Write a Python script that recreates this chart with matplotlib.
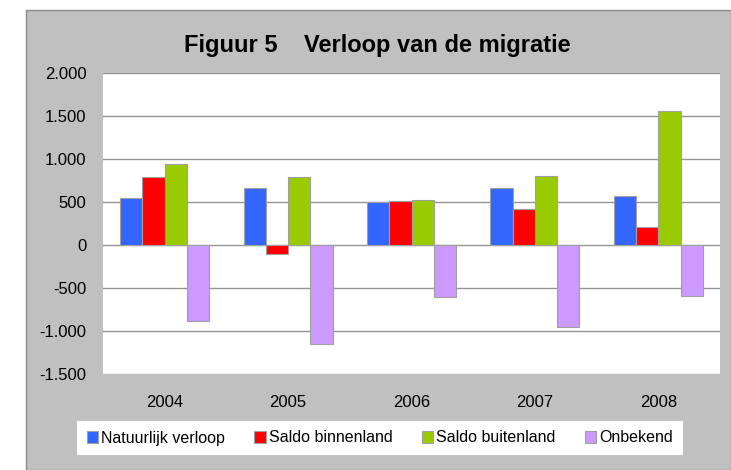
import matplotlib.pyplot as plt
from matplotlib.patches import Rectangle
from matplotlib.ticker import FuncFormatter, MultipleLocator
import numpy as np

plt.rcParams['font.family'] = ['Liberation Sans', 'DejaVu Sans']

years = ['2004', '2005', '2006', '2007', '2008']
natuurlijk = [545, 660, 500, 663, 570]
binnenland = [795, -108, 508, 422, 205]
buitenland = [942, 791, 523, 798, 1558]
onbekend = [-884, -1151, -605, -957, -593]

series = [
    ('Natuurlijk verloop', natuurlijk, '#3366ff'),
    ('Saldo binnenland', binnenland, '#ff0000'),
    ('Saldo buitenland', buitenland, '#99cc00'),
    ('Onbekend', onbekend, '#cc99ff'),
]

fig = plt.figure(figsize=(7.31, 4.70), dpi=100)
fig.patch.set_facecolor('white')

# grey chart area with thin border
bg = Rectangle((26 / 731, 0), 705 / 731, 460 / 470, transform=fig.transFigure,
               facecolor='#c0c0c0', edgecolor='#8c8c8c', linewidth=1, zorder=-10)
fig.add_artist(bg)

ax = fig.add_axes([103 / 731, 1 - 374 / 470, 617 / 731, 301 / 470])
ax.set_facecolor('white')

x = np.arange(len(years))
w = 0.18
for i, (name, vals, col) in enumerate(series):
    ax.bar(x + (i - 1.5) * w, vals, w, color=col, edgecolor='#a0a0a0',
           linewidth=0.8, label=name, zorder=3)

ax.set_ylim(-1500, 2000)
ax.set_xlim(-0.5, len(years) - 0.5)
ax.yaxis.set_major_locator(MultipleLocator(500))
ax.yaxis.set_major_formatter(FuncFormatter(lambda v, p: f'{int(v):,}'.replace(',', '.')))
ax.grid(axis='y', color='#949494', linewidth=1, zorder=1)
ax.set_xticks(x)
ax.set_xticklabels(years)
ax.tick_params(axis='both', length=0, labelsize=12)
ax.tick_params(axis='y', pad=12)
ax.tick_params(axis='x', pad=15)
for s in ax.spines.values():
    s.set_visible(False)

fig.text(377 / 731, 1 - 52 / 470, 'Figuur 5    Verloop van de migratie',
         ha='center', va='baseline', fontsize=17, fontweight='bold')

leg = fig.legend(loc='center', bbox_to_anchor=(77 / 731, 1 - 456 / 470, 606 / 731, 36 / 470),
                 ncol=4, mode='expand', fontsize=11.5, frameon=True, fancybox=False,
                 framealpha=1, handlelength=0.7, handleheight=0.7, handletextpad=0.2,
                 borderaxespad=0, borderpad=0.6)
leg.get_frame().set_facecolor('white')
leg.get_frame().set_edgecolor('white')
leg.get_frame().set_linewidth(0)

fig.savefig('out.png', dpi=100)
